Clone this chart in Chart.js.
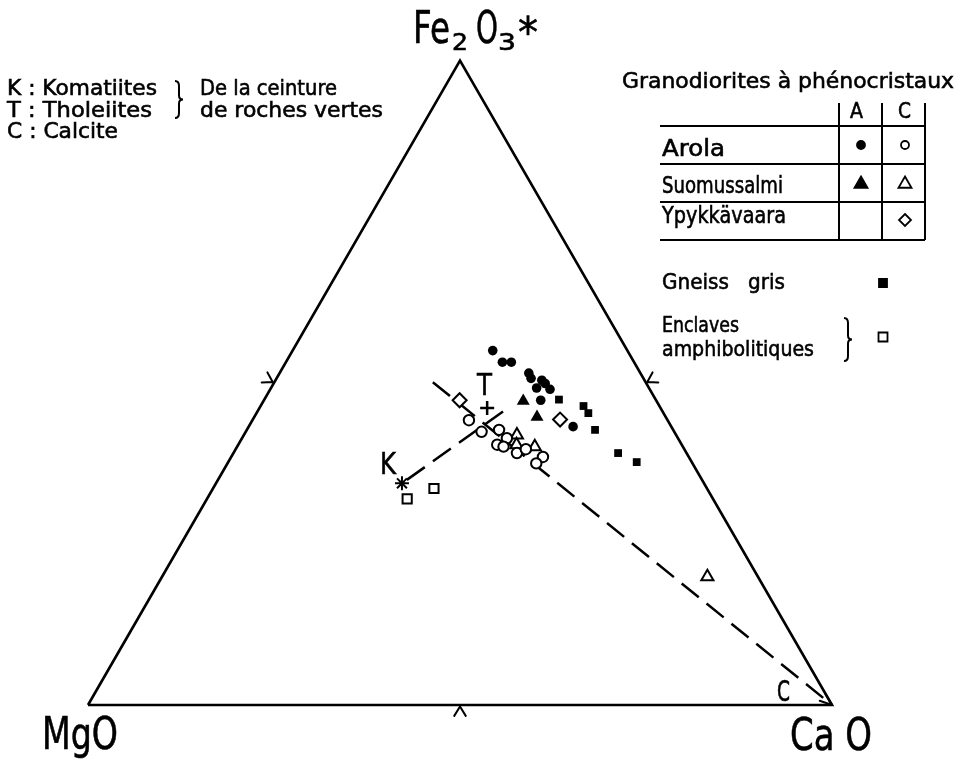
<!DOCTYPE html>
<html><head><meta charset="utf-8">
<script src="https://cdn.jsdelivr.net/npm/chart.js@4.4.0/dist/chart.umd.min.js"></script>
<style>html,body{margin:0;padding:0;background:#fff}#wrap{width:957px;height:762px;position:relative}</style>
</head><body><div id="wrap"><canvas id="c"></canvas></div>
<script>
// Ternary compositions in %, order: [MgO, Fe2O3*, CaO]
const vertexNames = ['MgO', 'Fe2O3*', 'Ca O'];
const arolaA = [[18.1,55.0,26.9],[17.7,53.2,29.1],[16.5,53.2,30.3],[15.0,51.5,33.5],[15.1,50.7,34.2],[13.8,50.4,35.8],[13.6,49.9,36.5],[15.1,49.2,35.7],[13.4,49.0,37.6],[15.5,47.3,37.2],[13.2,43.2,43.6]];
const arolaC = [[26.7,44.2,29.1],[25.9,42.4,31.7],[23.4,42.7,33.9],[23.0,41.4,35.6],[24.8,40.4,34.8],[24.1,40.1,35.8],[22.8,39.1,38.1],[21.3,39.7,39.0],[19.6,38.5,41.9],[21.0,37.5,41.5]];
const suomA = [[17.9,47.2,34.9],[17.3,44.7,38.0]];
const suomC = [[21.4,41.9,36.7],[22.2,40.4,37.4],[19.9,40.1,40.0],[6.8,19.9,73.3]];
const ypykC = [[26.4,47.3,26.3],[14.4,44.3,41.3]];
const gneissGris = [[13.0,47.4,39.6],[10.2,46.4,43.4],[10.1,45.3,44.6],[10.5,42.7,46.8],[9.2,39.1,51.7],[7.4,37.7,54.9]];
const enclaves = [[41.1,32.0,26.9],[36.7,33.6,29.7]];
const komatiite = [[40.6,34.4,25.0]];
const tholeiite = [[23.3,46.1,30.6]];
const calcite = [[0,0,100]];
const lineKT = [[40.6,34.4,25.0],[20.5,46.1,33.4]];
const lineC = [[28.6,50.1,21.3],[0,0,100]];
const triangleVerts = [[100,0,0],[0,100,0],[0,0,100],[100,0,0]];

const SQ3 = Math.sqrt(3)/2;
function tern(p){const s=p[0]+p[1]+p[2];const fe=p[1]/s*100,ca=p[2]/s*100;return {x:ca+fe/2,y:fe*SQ3};}
const T = a => a.map(tern);

const k = 7.44;
const FONT = '"DejaVu Sans", "Liberation Sans", sans-serif';

function txt(ctx,s,x,y,size,w){
  ctx.save();ctx.font=size+'px '+FONT;ctx.textBaseline='alphabetic';ctx.textAlign='left';
  const m=ctx.measureText(s).width;const sx=w?w/m:1;ctx.translate(x,y);ctx.scale(sx,1);ctx.fillStyle='#000';ctx.fillText(s,0,0);
  ctx.lineWidth=0.6;ctx.strokeStyle='#000';ctx.strokeText(s,0,0);ctx.restore();
}
function brace(ctx,x,y1,y2){
  const ym=(y1+y2)/2;ctx.beginPath();
  ctx.moveTo(x-4,y1);ctx.quadraticCurveTo(x,y1,x,y1+5);ctx.lineTo(x,ym-4);ctx.quadraticCurveTo(x,ym,x+4,ym);
  ctx.quadraticCurveTo(x,ym,x,ym+4);ctx.lineTo(x,y2-5);ctx.quadraticCurveTo(x,y2,x-4,y2);ctx.stroke();
}
function sym(ctx,type,x,y,r,filled){
  ctx.save();ctx.lineWidth=1.8;ctx.strokeStyle='#000';ctx.fillStyle=filled?'#000':'#fff';ctx.beginPath();
  if(type==='circle'){ctx.arc(x,y,r,0,Math.PI*2);}
  else if(type==='triangle'){ctx.moveTo(x,y-r);ctx.lineTo(x+r*0.866,y+r*0.5);ctx.lineTo(x-r*0.866,y+r*0.5);ctx.closePath();}
  else if(type==='rect'){ctx.rect(x-r,y-r,2*r,2*r);}
  else if(type==='diamond'){ctx.moveTo(x,y-r);ctx.lineTo(x+r,y);ctx.lineTo(x,y+r);ctx.lineTo(x-r,y);ctx.closePath();}
  ctx.fill();ctx.stroke();ctx.restore();
}

const decor = {
  id:'decor',
  afterDatasetsDraw(chart){
    const ctx=chart.ctx, xs=chart.scales.x, ys=chart.scales.y;
    const P = p => {const t=tern(p);return [xs.getPixelForValue(t.x), ys.getPixelForValue(t.y)];};
    ctx.save();ctx.strokeStyle='#000';ctx.lineWidth=2;ctx.lineCap='round';
    // midpoint chevrons
    const cen=P([33.33,33.33,33.34]);
    [[50,50,0],[0,50,50],[50,0,50]].forEach(m=>{
      const [mx,my]=P(m);let dx=mx-cen[0],dy=my-cen[1];const L=Math.hypot(dx,dy);dx/=L;dy/=L;
      const a=Math.atan2(dy,dx);ctx.beginPath();
      [a-0.55,a+0.55].forEach(b=>{ctx.moveTo(mx+dx*1.5,my+dy*1.5);ctx.lineTo(mx+dx*1.5+Math.cos(b)*11,my+dy*1.5+Math.sin(b)*11);});
      ctx.stroke();
    });
    // arrow head at calcite end
    const [ax,ay]=P(lineC[1]);const [bx,by]=P(lineC[0]);
    let ux=bx-ax,uy=by-ay;const ul=Math.hypot(ux,uy);ux/=ul;uy/=ul;const aa=Math.atan2(uy,ux);
    ctx.beginPath();[aa-0.35,aa+0.35].forEach(b=>{ctx.moveTo(ax,ay);ctx.lineTo(ax+Math.cos(b)*13,ay+Math.sin(b)*13);});ctx.stroke();
    ctx.restore();

    // vertex labels
    txt(ctx,'Fe',413,43,45,37);
    txt(ctx,'2',452,50,23,16);
    txt(ctx,'O',476,43,45,22);
    txt(ctx,'3',498,50,23,18);
    txt(ctx,'*',518,47,42,20);
    txt(ctx,vertexNames[0],42,749,44,76);
    txt(ctx,vertexNames[2],790,750,44,82);
    // point labels
    txt(ctx,'T',477,395,30,15);
    txt(ctx,'K',380,474,30,16);
    txt(ctx,'C',777,701,29,13);

    // left legend
    txt(ctx,'K : Komatiites',7,95,22,150);
    txt(ctx,'T : Tholeiites',7,117,22,145);
    txt(ctx,'C : Calcite',7,138,22,111);
    txt(ctx,'De la ceinture',200,95,22,137);
    txt(ctx,'de roches vertes',200,117,22,183);
    ctx.save();ctx.lineWidth=2;ctx.strokeStyle='#000';brace(ctx,179,81,118);ctx.restore();

    // right legend
    txt(ctx,'Granodiorites à phénocristaux',622,88,22,332);
    txt(ctx,'A',850,118,22,13);
    txt(ctx,'C',898,118,22,13);
    ctx.save();ctx.lineWidth=2;ctx.strokeStyle='#000';ctx.beginPath();
    [839,882,925].forEach(x=>{ctx.moveTo(x,103);ctx.lineTo(x,240);});
    [126,164,202,240].forEach(y=>{ctx.moveTo(660,y);ctx.lineTo(925,y);});
    ctx.stroke();ctx.restore();
    txt(ctx,'Arola',662,156,23,63);
    txt(ctx,'Suomussalmi',662,193,23,121);
    txt(ctx,'Ypykkävaara',662,223,23,124);
    sym(ctx,'circle',861,145,4,true);
    sym(ctx,'circle',905,145,4,false);
    sym(ctx,'triangle',861,184,7.5,true);
    sym(ctx,'triangle',905,184,7.5,false);
    sym(ctx,'diamond',905,220,6,false);
    txt(ctx,'Gneiss   gris',662,289,22,123);
    sym(ctx,'rect',883,283,4,true);
    txt(ctx,'Enclaves',662,332,22,77);
    txt(ctx,'amphibolitiques',662,356,22,152);
    ctx.save();ctx.lineWidth=2;ctx.strokeStyle='#000';brace(ctx,848,318,361);ctx.restore();
    sym(ctx,'rect',883,337,4.5,false);
  }
};

const common = {showLine:false, borderColor:'#000', pointBorderColor:'#000'};
new Chart(document.getElementById('c'), {
  type:'scatter',
  data:{datasets:[
    {label:'Arola A',data:T(arolaA),pointStyle:'circle',pointRadius:4.8,pointBackgroundColor:'#000',pointBorderWidth:0,...common},
    {label:'Gneiss gris',data:T(gneissGris),pointStyle:'rect',pointRadius:5.5,pointBackgroundColor:'#000',pointBorderWidth:0,...common},
    {label:'Suomussalmi A',data:T(suomA),pointStyle:'triangle',pointRadius:7.5,pointBackgroundColor:'#000',pointBorderWidth:0,...common},
    {label:'Arola C',data:T(arolaC),pointStyle:'circle',pointRadius:5.2,pointBackgroundColor:'#fff',pointBorderWidth:2,...common},
    {label:'Suomussalmi C',data:T(suomC),pointStyle:'triangle',pointRadius:7,pointBackgroundColor:'#fff',pointBorderWidth:2,...common},
    {label:'Ypykkävaara C',data:T(ypykC),pointStyle:'rectRot',pointRadius:7,pointBackgroundColor:'#fff',pointBorderWidth:2,...common},
    {label:'Enclaves amphibolitiques',data:T(enclaves),pointStyle:'rect',pointRadius:6.5,pointBackgroundColor:'#fff',pointBorderWidth:2,...common},
    {label:'K',data:T(komatiite),pointStyle:'star',pointRadius:7,pointBorderWidth:2,...common},
    {label:'T',data:T(tholeiite),pointStyle:'cross',pointRadius:7,pointBorderWidth:2.5,...common},
    {label:'K-T',data:T(lineKT),showLine:true,borderColor:'#000',borderWidth:2.5,borderDash:[22,10],borderDashOffset:26,pointRadius:0,order:5},
    {label:'C',data:T(lineC),showLine:true,borderColor:'#000',borderWidth:2.5,borderDash:[22,10],pointRadius:0,order:5},
    {label:'triangle',data:T(triangleVerts),showLine:true,borderColor:'#000',borderWidth:2.6,pointRadius:0,order:6,borderJoinStyle:'miter'}
  ]},
  options:{
    responsive:true,maintainAspectRatio:false,animation:false,
    layout:{padding:0,autoPadding:false},
    plugins:{legend:{display:false},tooltip:{enabled:false}},
    scales:{
      x:{type:'linear',display:false,min:-88/k,max:(957-88)/k},
      y:{type:'linear',display:false,min:-(762-705)/k,max:705/k}
    }
  },
  plugins:[decor]
});
</script></body></html>
